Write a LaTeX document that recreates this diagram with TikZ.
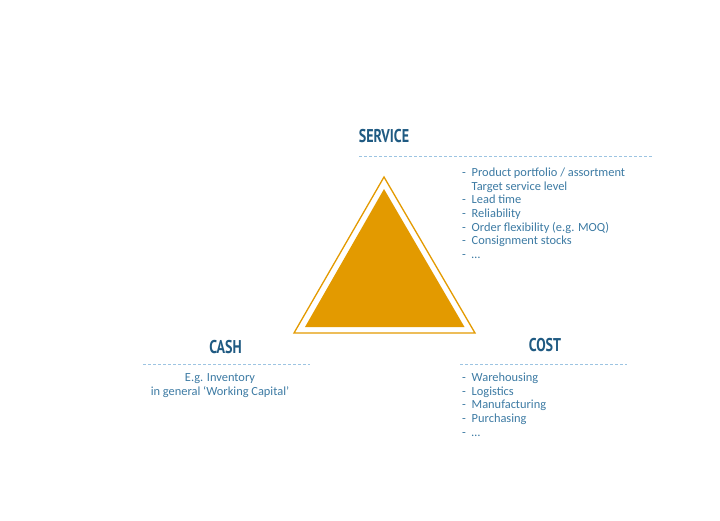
\documentclass[tikz,border=0pt]{standalone}
\usepackage{fontspec}
\setmainfont{Carlito}
\newfontfamily\headfont{PT Sans Bold}
\definecolor{headblue}{HTML}{1F5A82}
\definecolor{textblue}{HTML}{3C7AA3}
\definecolor{dashblue}{HTML}{9CC4E2}
\definecolor{triorange}{HTML}{E39A00}
\tikzset{
  head/.style={text=headblue, font=\headfont\fontsize{18.5}{18.5}\selectfont, inner sep=0pt, anchor=base},
  sep/.style={draw=dashblue, dash pattern=on 3pt off 2pt, line width=0.6pt},
  lst/.style={text=textblue, font=\fontsize{12.4}{13.6}\selectfont, align=left, inner sep=0pt, anchor=base west},
  ctr/.style={text=textblue, font=\fontsize{12.4}{14.7}\selectfont, align=center, inner sep=0pt, anchor=base},
}
\newcommand{\hd}[1]{\scalebox{0.76}[1]{#1}}
\newcommand{\itm}[1]{\makebox[9.5pt][l]{-}#1}
\newcommand{\nitm}[1]{\makebox[9.5pt][l]{}#1}
\begin{document}
\begin{tikzpicture}[x=1pt,y=-1pt]
\useasboundingbox (0,0) rectangle (720,520);
% triangle
\coordinate (oa) at (384,177);
\coordinate (ob) at (294,333);
\coordinate (oc) at (475,333);
\coordinate (ia) at (384,189);
\coordinate (ib) at (305,327);
\coordinate (ic) at (464.5,327);
\draw[triorange, line width=1.3pt, line join=miter] (oa) -- (ob) -- (oc) -- cycle;
\fill[triorange] (ia) -- (ib) -- (ic) -- cycle;
% SERVICE
\node[head] (service) at (384,142.7) {\hd{SERVICE}};
\coordinate (s1) at (359,156);
\coordinate (s2) at (653,156);
\draw[sep] (s1) -- (s2);
% anchor base = baseline of last line
\node[lst] (slist) at (462,258.3) {\itm{Product portfolio / assortment}\\\nitm{Target service level}\\\itm{Lead time}\\\itm{Reliability}\\\itm{Order flexibility (e.g. MOQ)}\\\itm{Consignment stocks}\\\itm{\ldots}};
% CASH
\node[head] (cash) at (225.5,353) {\hd{CASH}};
\coordinate (c1) at (143,364);
\coordinate (c2) at (310,364);
\draw[sep] (c1) -- (c2);
\node[ctr] (ctext) at (220,395.7) {E.g. Inventory\\in general `Working Capital'};
% COST
\node[head] (cost) at (545,351) {\hd{COST}};
\coordinate (k1) at (460,364);
\coordinate (k2) at (627,364);
\draw[sep] (k1) -- (k2);
\node[lst] (klist) at (462,436.1) {\itm{Warehousing}\\\itm{Logistics}\\\itm{Manufacturing}\\\itm{Purchasing}\\\itm{\ldots}};
\end{tikzpicture}
\end{document}
